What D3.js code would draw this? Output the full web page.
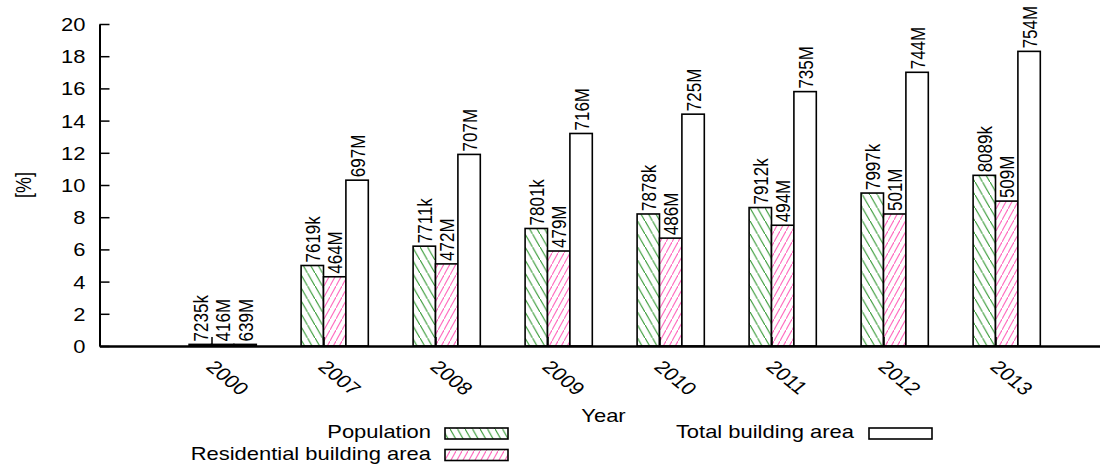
<!DOCTYPE html>
<html>
<head>
<meta charset="utf-8">
<script src="https://cdn.jsdelivr.net/npm/d3@7"></script>
<style>
  html, body { margin: 0; padding: 0; background: #fff; }
  svg text { font-family: "Liberation Sans", Arial, Helvetica, sans-serif; fill: #000; }
</style>
</head>
<body>
<svg id="chart" width="1100" height="470"></svg>
<script>
// Years on the category axis
const years = ["2000", "2007", "2008", "2009", "2010", "2011", "2012", "2013"];

// Growth values in percent, one entry per year
const population  = [0.1, 5.0, 6.2, 7.3, 8.2, 8.6, 9.5, 10.6];
const residential = [0.1, 4.3, 5.1, 5.9, 6.7, 7.5, 8.2, 9.0];
const totalArea   = [0.1, 10.3, 11.9, 13.2, 14.4, 15.8, 17.0, 18.3];

// Absolute figures printed above each bar
const populationLabels  = ["7235k", "7619k", "7711k", "7801k", "7878k", "7912k", "7997k", "8089k"];
const residentialLabels = ["416M", "464M", "472M", "479M", "486M", "494M", "501M", "509M"];
const totalAreaLabels   = ["639M", "697M", "707M", "716M", "725M", "735M", "744M", "754M"];

const seriesNames = ["Population", "Residential building area", "Total building area"];
const yTicks = [0, 2, 4, 6, 8, 10, 12, 14, 16, 18, 20];

// ---- layout ----
const svg = d3.select("#chart");
const plotLeft = 99.5, plotRight = 1107.5, plotTop = 24, plotBottom = 346;
const sx = 1.22;               // text is drawn slightly wide
const barW = 0.2;              // bar width in category units

const x = d3.scaleLinear().domain([-1, years.length]).range([plotLeft, plotRight]);
const y = d3.scaleLinear().domain([0, 20]).range([plotBottom, plotTop]);

// ---- hatch patterns ----
const defs = svg.append("defs");
function hatch(id, color, w, h, forward) {
  const p = defs.append("pattern")
    .attr("id", id).attr("patternUnits", "userSpaceOnUse")
    .attr("width", w).attr("height", h);
  p.append("rect").attr("width", w).attr("height", h).attr("fill", "#fff");
  const seg = forward ? [-w, 2 * h, 2 * w, -h] : [-w, -h, 2 * w, 2 * h];
  p.append("line")
    .attr("x1", seg[0]).attr("y1", seg[1]).attr("x2", seg[2]).attr("y2", seg[3])
    .attr("stroke", color).attr("stroke-width", 1.1);
}
hatch("hatchGreen", "#2f962f", 7.5, 13, false);
hatch("hatchPink", "#ff6ec0", 6, 11, true);

const series = [
  { name: seriesNames[0], values: population,  labels: populationLabels,  fill: "url(#hatchGreen)", offset: -barW },
  { name: seriesNames[1], values: residential, labels: residentialLabels, fill: "url(#hatchPink)",  offset: 0 },
  { name: seriesNames[2], values: totalArea,   labels: totalAreaLabels,   fill: "#fff",             offset: barW }
];

// ---- bars ----
const bars = svg.append("g");
series.forEach(s => {
  bars.selectAll(null).data(s.values).enter().append("rect")
    .attr("x", (d, i) => x(i + s.offset))
    .attr("y", d => y(d))
    .attr("width", x(barW) - x(0))
    .attr("height", d => y(0) - y(d))
    .attr("fill", s.fill)
    .attr("stroke", "#000")
    .attr("stroke-width", 1.6);
});

// ---- value labels above bars ----
const labels = svg.append("g");
series.forEach(s => {
  labels.selectAll(null).data(s.values).enter().append("text")
    .attr("transform", (d, i) => {
      const cx = x(i + s.offset + barW / 2);
      return `translate(${cx},${y(d) - 3}) scale(${sx},1) rotate(-90)`;
    })
    .attr("dy", "0.36em")
    .attr("font-size", 17)
    .text((d, i) => s.labels[i]);
});

// ---- axes ----
const yAxis = svg.append("g")
  .attr("transform", `translate(${plotLeft},0)`)
  .call(d3.axisLeft(y).tickValues(yTicks).tickSize(-10).tickSizeOuter(0).tickPadding(0));
yAxis.select(".domain").attr("stroke", "#000").attr("stroke-width", 2);
yAxis.selectAll(".tick line").attr("stroke", "#000").attr("stroke-width", 1.5);
yAxis.selectAll(".tick text")
  .attr("x", null).attr("dy", "0.36em")
  .attr("transform", `translate(-14,0) scale(${sx},1)`)
  .attr("font-size", 18).attr("font-family", null);

const xAxis = svg.append("g")
  .attr("transform", `translate(0,${plotBottom})`)
  .call(d3.axisBottom(x).tickValues(d3.range(years.length)).tickSize(-9).tickSizeOuter(0).tickPadding(0)
    .tickFormat(i => years[i]));
xAxis.select(".domain").attr("stroke", "#000").attr("stroke-width", 2.5);
xAxis.selectAll(".tick line").attr("stroke", "#000").attr("stroke-width", 1.5);
xAxis.selectAll(".tick text")
  .attr("y", null).attr("dy", null)
  .attr("text-anchor", "start")
  .attr("transform", `translate(-7,22) scale(${sx},1) rotate(45)`)
  .attr("font-size", 18).attr("font-family", null);

// ---- axis titles ----
svg.append("text")
  .attr("transform", `translate(${(plotLeft + plotRight) / 2},422) scale(${sx},1)`)
  .attr("text-anchor", "middle").attr("font-size", 18)
  .text("Year");

svg.append("text")
  .attr("transform", `translate(23,185) scale(${sx},1) rotate(-90)`)
  .attr("text-anchor", "middle").attr("dy", "0.35em").attr("font-size", 18)
  .text("[%]");

// ---- legend ----
const legendItems = [
  { s: series[0], tx: 431, sw: 445, yb: 438 },
  { s: series[1], tx: 431, sw: 445, yb: 459.5 },
  { s: series[2], tx: 854, sw: 869, yb: 438 }
];
const legend = svg.append("g");
legendItems.forEach(it => {
  legend.append("text")
    .attr("transform", `translate(${it.tx},${it.yb}) scale(${sx},1)`)
    .attr("text-anchor", "end").attr("font-size", 18)
    .text(it.s.name);
  legend.append("rect")
    .attr("x", it.sw).attr("y", it.yb - 10)
    .attr("width", 63).attr("height", 11)
    .attr("fill", it.s.fill).attr("stroke", "#000").attr("stroke-width", 1.6);
});
</script>
</body>
</html>
